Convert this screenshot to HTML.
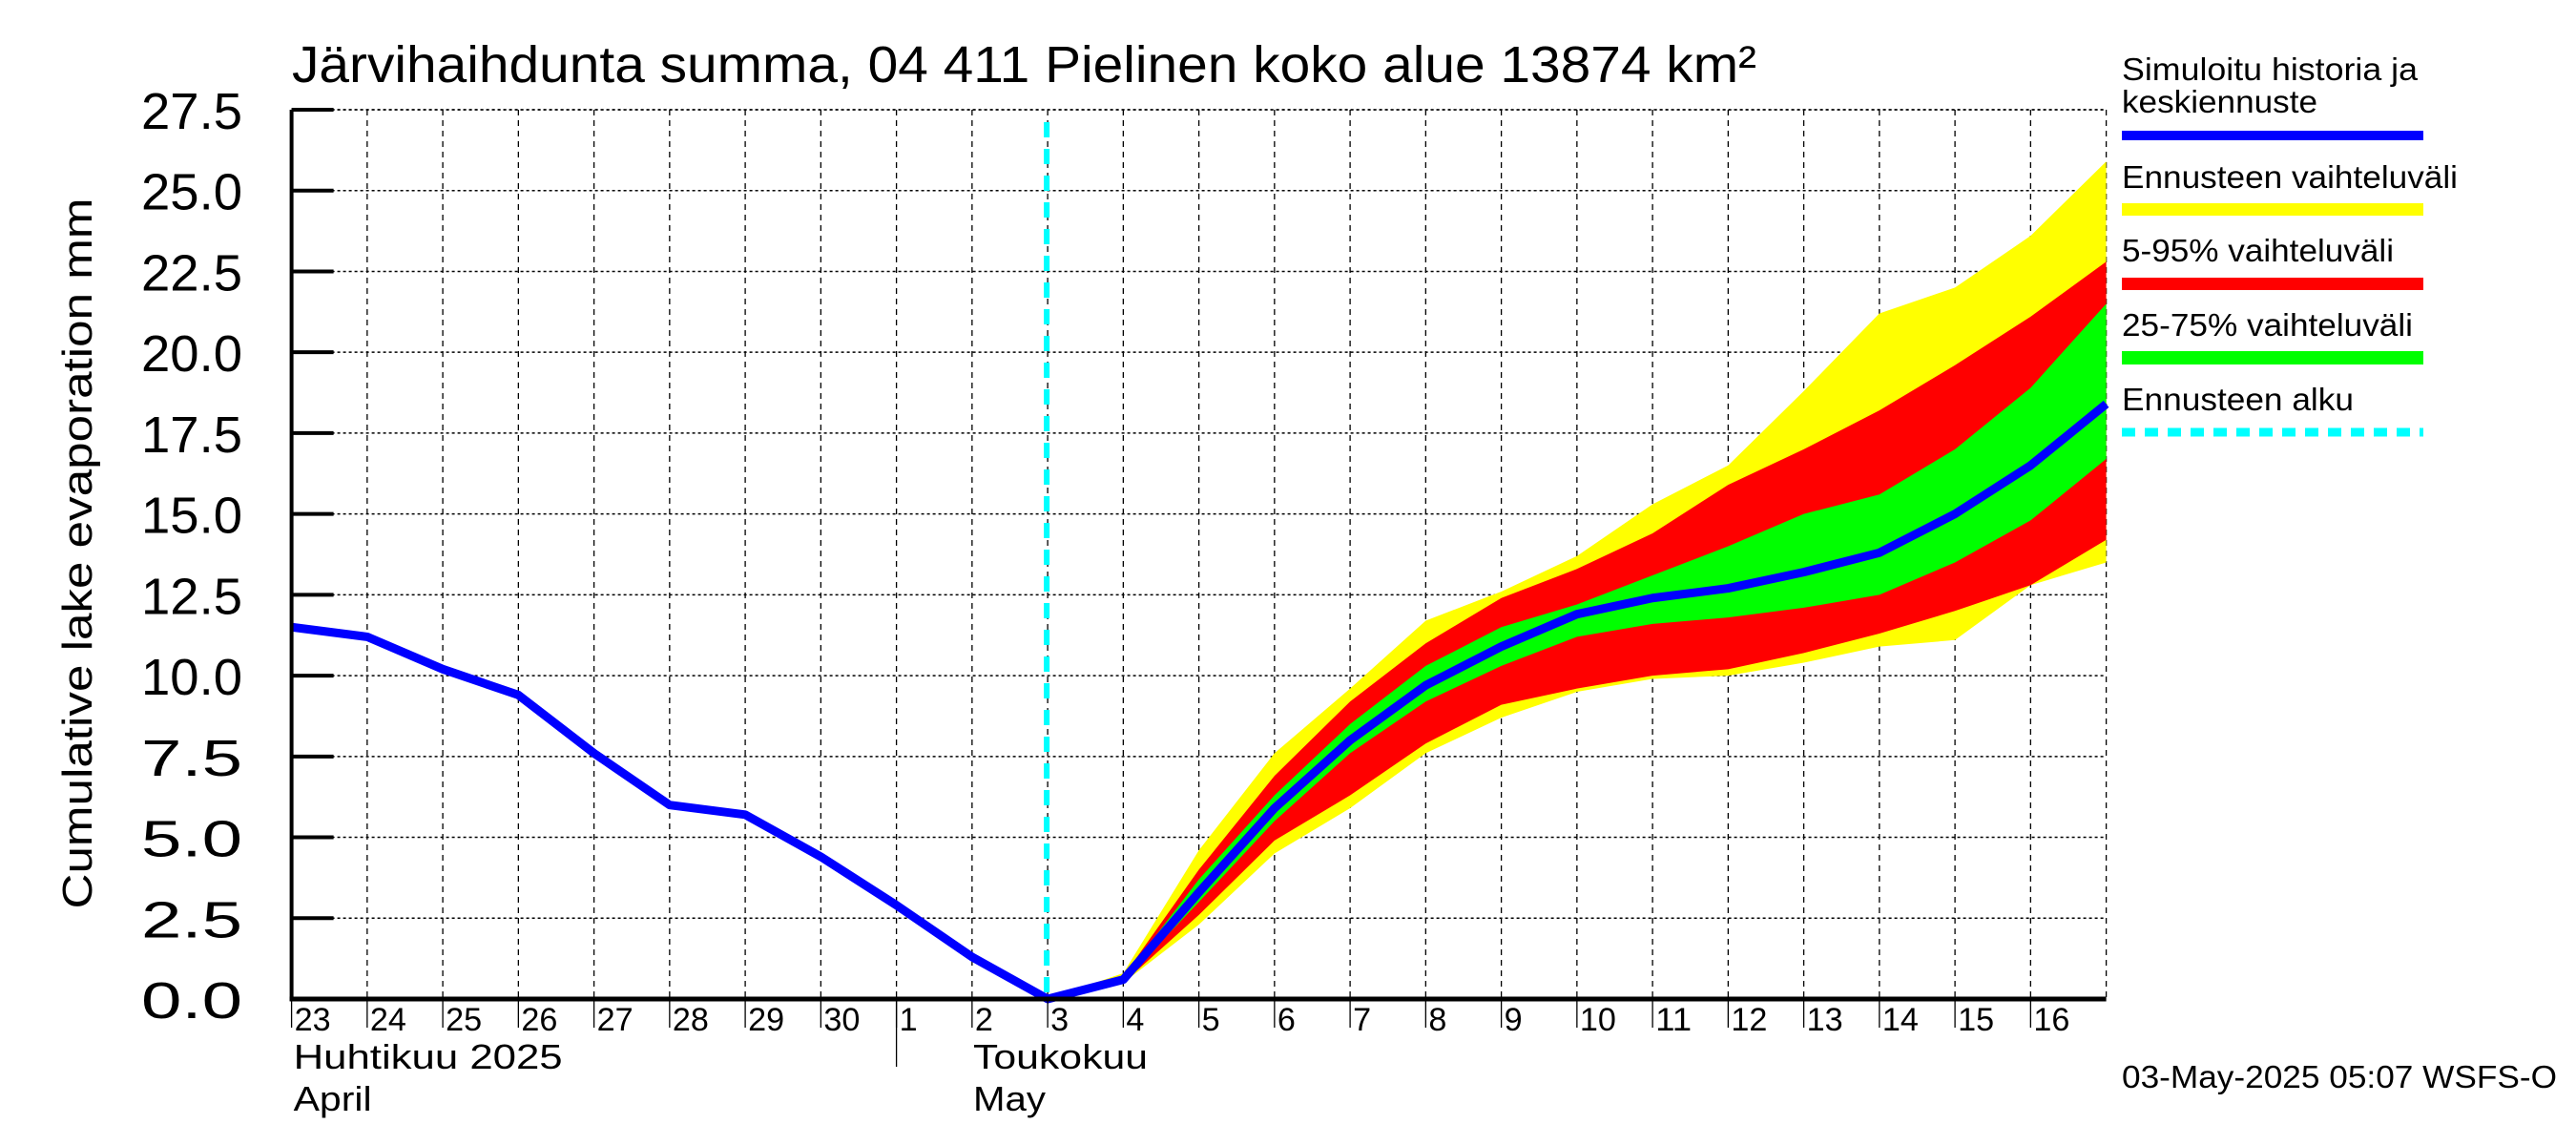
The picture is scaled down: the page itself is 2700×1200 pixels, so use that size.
<!DOCTYPE html>
<html><head><meta charset="utf-8"><style>
html,body{margin:0;padding:0;background:#fff;}
svg{display:block;font-family:"Liberation Sans",sans-serif;}
</style></head><body>
<svg id="chart" width="2700" height="1200" viewBox="0 0 2700 1200" xmlns="http://www.w3.org/2000/svg">
<rect width="2700" height="1200" fill="#fff"/>
<text x="306" y="86" font-size="54" textLength="1535" lengthAdjust="spacingAndGlyphs">Järvihaihdunta summa, 04 411 Pielinen koko alue 13874 km²</text>
<text transform="translate(96,580) rotate(-90)" text-anchor="middle" font-size="44" textLength="745" lengthAdjust="spacingAndGlyphs">Cumulative lake evaporation   mm</text>
<g id="grid"></g>
<g id="bands"></g>
<g id="lines"></g>
<g id="axes"></g>
<g id="legend">
<text x="2224" y="84" font-size="33" textLength="310" lengthAdjust="spacingAndGlyphs">Simuloitu historia ja</text>
<text x="2224" y="118" font-size="33" textLength="205" lengthAdjust="spacingAndGlyphs">keskiennuste</text>
<rect x="2224" y="137" width="316" height="10" fill="#0000ff"/>
<text x="2224" y="197" font-size="33" textLength="352" lengthAdjust="spacingAndGlyphs">Ennusteen vaihteluväli</text>
<rect x="2224" y="213" width="316" height="13" fill="#ffff00"/>
<text x="2224" y="274" font-size="33" textLength="285" lengthAdjust="spacingAndGlyphs">5-95% vaihteluväli</text>
<rect x="2224" y="291" width="316" height="13" fill="#ff0000"/>
<text x="2224" y="352" font-size="33" textLength="305" lengthAdjust="spacingAndGlyphs">25-75% vaihteluväli</text>
<rect x="2224" y="368" width="316" height="14" fill="#00ff00"/>
<text x="2224" y="430" font-size="33" textLength="243" lengthAdjust="spacingAndGlyphs">Ennusteen alku</text>
<line x1="2224" y1="453" x2="2540" y2="453" stroke="#00ffff" stroke-width="9" stroke-dasharray="14,10"/>
</g>
<text x="2680" y="1140" text-anchor="end" font-size="33" textLength="456" lengthAdjust="spacingAndGlyphs">03-May-2025 05:07 WSFS-O</text>
</svg>
<script>
const dayLabels = ["23","24","25","26","27","28","29","30","1","2","3","4","5","6","7","8","9","10","11","12","13","14","15","16"];
const yTicks = [0,2.5,5,7.5,10,12.5,15,17.5,20,22.5,25,27.5];
const history = [11.5,11.2,10.2,9.4,7.6,6.0,5.7,4.4,2.9,1.3,0.0];
const median = [0,0.6,3.3,5.9,8.0,9.7,10.9,11.9,12.4,12.7,13.2,13.8,15.0,16.5,18.4];
const rangeMax = [0,0.8,4.6,7.6,9.6,11.7,12.6,13.7,15.3,16.5,18.8,21.2,22.0,23.6,25.9];
const rangeMin = [0,0.5,2.3,4.5,5.9,7.6,8.7,9.5,9.9,10.0,10.4,10.9,11.1,12.8,13.5];
const p95 = [0,0.7,4.0,6.9,9.2,11.0,12.4,13.3,14.4,15.9,17.0,18.2,19.6,21.1,22.8];
const p5 = [0,0.5,2.6,4.9,6.3,7.9,9.1,9.6,10.0,10.2,10.7,11.3,12.0,12.8,14.2];
const p75 = [0,0.65,3.7,6.3,8.5,10.3,11.5,12.2,13.1,14.0,15.0,15.6,17.0,18.9,21.5];
const p25 = [0,0.55,3.0,5.5,7.6,9.2,10.3,11.2,11.6,11.8,12.1,12.5,13.5,14.8,16.7];
const forecastStart = 10;

const NS="http://www.w3.org/2000/svg";
const X0=305.6, DX=79.25, Y0=1047, YTOP=115, YMAX=27.5;
const xs=i=>X0+i*DX;
const ys=v=>Y0-(v/YMAX)*(Y0-YTOP);
function mk(tag,parent,attrs){const e=document.createElementNS(NS,tag);for(const k in attrs)e.setAttribute(k,attrs[k]);parent.appendChild(e);return e;}
const grid=document.getElementById('grid'),bands=document.getElementById('bands'),lines=document.getElementById('lines'),axes=document.getElementById('axes');
const nDays=dayLabels.length;
const XR=xs(nDays);
// grid
for(let i=1;i<=nDays;i++){const l=mk('line',grid,{x1:xs(i),y1:YTOP,x2:xs(i),y2:Y0,stroke:'#000','stroke-width':1.3,'stroke-dasharray':'6,5'});

}
yTicks.forEach(v=>{if(v===0)return;const l=mk('line',grid,{x1:X0,y1:ys(v),x2:XR,y2:ys(v),stroke:'#000','stroke-width':1.5,'stroke-dasharray':'3,3'});

});
// bands
function band(up,lo,color,name){let pts=[];up.forEach((v,i)=>pts.push(xs(forecastStart+i)+','+ys(v)));for(let i=lo.length-1;i>=0;i--)pts.push(xs(forecastStart+i)+','+ys(lo[i]));
const p=mk('polygon',bands,{points:pts.join(' '),fill:color});

}
band(rangeMax,rangeMin,'#ffff00','band-range');
band(p95,p5,'#ff0000','band-5-95');
band(p75,p25,'#00ff00','band-25-75');
// forecast start line
const fs=mk('line',lines,{x1:xs(forecastStart)-1,y1:128,x2:xs(forecastStart)-1,y2:Y0,stroke:'#00ffff','stroke-width':6,'stroke-dasharray':'16,12'});


// median line
const all=history.map((v,i)=>xs(i)+','+ys(v)).concat(median.slice(1).map((v,i)=>xs(forecastStart+1+i)+','+ys(v)));
const ml=mk('polyline',lines,{points:all.join(' '),fill:'none',stroke:'#0000ff','stroke-width':9,'stroke-linejoin':'round'});


// axes
const la=mk('line',axes,{x1:X0,y1:YTOP,x2:X0,y2:Y0+2,stroke:'#000','stroke-width':4});


const ba=mk('line',axes,{x1:X0-2,y1:Y0,x2:XR,y2:Y0,stroke:'#000','stroke-width':5});


yTicks.forEach(v=>{const t=mk('line',axes,{x1:X0,y1:ys(v),x2:X0+44,y2:ys(v),stroke:'#000','stroke-width':4});


const tx=mk('text',axes,{x:254,y:ys(v)+20,'text-anchor':'end','font-size':54,textLength:106,lengthAdjust:'spacingAndGlyphs'});
tx.textContent=v.toFixed(1);

});
dayLabels.forEach((d,i)=>{const t=mk('line',axes,{x1:xs(i),y1:Y0,x2:xs(i),y2:Y0+30,stroke:'#000','stroke-width':1.3});


const tx=mk('text',axes,{x:xs(i)+3,y:1080,'font-size':34,textLength:d.length*19,lengthAdjust:'spacingAndGlyphs'});
tx.textContent=d;

});
const sep=mk('line',axes,{x1:xs(8),y1:Y0,x2:xs(8),y2:1118,stroke:'#000','stroke-width':1.3});


[['Huhtikuu  2025',xs(0)+2,1120,282,'month-label-april-fi'],['April',xs(0)+2,1164,82,'month-label-april-en'],['Toukokuu',1020,1120,183,'month-label-may-fi'],['May',1020,1164,76,'month-label-may-en']].forEach(a=>{
const tx=mk('text',axes,{x:a[1],y:a[2],'font-size':36,textLength:a[3],lengthAdjust:'spacingAndGlyphs'});
tx.textContent=a[0];

});
// top/right border
const tb=mk('line',axes,{x1:X0,y1:YTOP,x2:XR,y2:YTOP,stroke:'#000','stroke-width':1.5,'stroke-dasharray':'3,3'});


</script>
</body></html>
